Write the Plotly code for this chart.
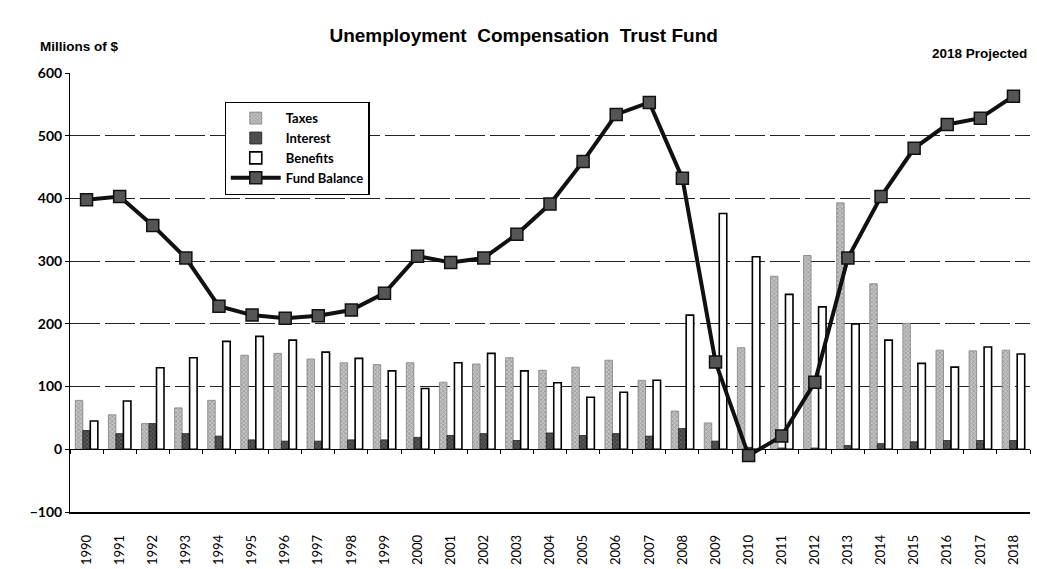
import plotly.graph_objects as go

years = [str(y) for y in range(1990, 2019)]
taxes = [78, 55, 41, 66, 78, 150, 153, 144, 138, 135, 138, 107, 136, 146, 126, 131, 142, 110, 61, 42,
         162, 276, 309, 393, 264, 201, 158, 157, 158]
interest = [30, 25, 41, 25, 21, 15, 13, 13, 15, 15, 19, 22, 25, 14, 26, 22, 25, 21, 33, 13,
            3, 2, 2, 6, 9, 12, 14, 14, 14]
benefits = [45, 77, 130, 146, 172, 180, 174, 155, 145, 125, 97, 138, 153, 125, 106, 83, 91, 110, 214, 376,
            307, 247, 227, 200, 174, 137, 131, 163, 152]
fund_balance = [398, 403, 357, 305, 228, 214, 209, 213, 222, 249, 308, 298, 305, 343, 391, 459, 534, 553, 432, 139,
                -10, 21, 107, 305, 403, 480, 518, 528, 563]

y_min, y_max = -100, 600

fig = go.Figure()
fig.add_trace(go.Bar(
    x=years, y=taxes, name="Taxes",
    marker=dict(color="#b8b8b8", line=dict(color="#808080", width=0.8),
                pattern=dict(shape="x", fgcolor="#606060", bgcolor="#c4c4c4", size=3, solidity=0.4)),
))
fig.add_trace(go.Bar(
    x=years, y=interest, name="Interest",
    marker=dict(color="#4d4d4d", line=dict(color="#222", width=0.8),
                pattern=dict(shape="x", fgcolor="#a0a0a0", bgcolor="#404040", size=3, solidity=0.35)),
))
fig.add_trace(go.Bar(
    x=years, y=benefits, name="Benefits",
    marker=dict(color="white", line=dict(color="black", width=1.6)),
))
fig.add_trace(go.Scatter(
    x=years, y=fund_balance, name="Fund Balance", mode="lines+markers",
    line=dict(color="#111", width=4),
    marker=dict(symbol="square", size=12, color="#555", line=dict(color="#111", width=1.5)),
))
# helper trace for category ticks along the zero line
fig.add_trace(go.Scatter(x=years, y=[None] * len(years), xaxis="x2", showlegend=False,
                         hoverinfo="skip", mode="markers"))

zero_pos = (0 - y_min) / (y_max - y_min)

fig.update_layout(
    width=1037, height=569,
    margin=dict(l=70, r=7, t=73, b=57, autoexpand=False),
    paper_bgcolor="white", plot_bgcolor="white",
    barmode="group", bargap=0.32, bargroupgap=0,
    font=dict(family="Liberation Sans, Arial, sans-serif", color="black", size=12),
    title=dict(text="<b>Unemployment  Compensation  Trust Fund</b>", x=0.505, xanchor="center",
               y=0.938, yanchor="middle", font=dict(size=19, family="Liberation Sans, Arial")),
    showlegend=True,
    legend=dict(x=0.161, y=0.934, xanchor="left", yanchor="top", bgcolor="white",
                bordercolor="black", borderwidth=1.2, traceorder="normal",
                font=dict(family="Lato, Open Sans, sans-serif", size=13, weight="bold"),
                itemwidth=50, tracegroupgap=2),
    xaxis=dict(type="category", categoryorder="array", categoryarray=years, range=[-0.5, len(years) - 0.5],
               showline=True, linecolor="black", linewidth=1.5, mirror=False, ticks="",
               tickangle=-90, tickfont=dict(family="Lato, sans-serif", size=13),
               ticklabelstandoff=16,
               showgrid=False, zeroline=False, automargin=False),
    xaxis2=dict(type="category", categoryorder="array", categoryarray=years, range=[-0.5, len(years) - 0.5],
                overlaying="x", anchor="free", position=zero_pos, side="bottom",
                showline=True, linecolor="black", linewidth=1, ticks="outside", ticklen=4,
                tickcolor="black", tickson="boundaries", showticklabels=False, showgrid=False,
                zeroline=False, automargin=False),
    yaxis=dict(range=[y_min, y_max], dtick=100, showline=True, linecolor="black", linewidth=1,
               ticks="outside", ticklen=4, tickcolor="black", automargin=False,
               tickfont=dict(family="Lato, sans-serif", size=14, weight="bold"),
               showgrid=True, gridcolor="#222", gridwidth=1, griddash="30px,5px",
               zeroline=True, zerolinecolor="black", zerolinewidth=1),
)

fig.add_annotation(text="<b>Millions of $</b>", xref="paper", yref="paper", x=-0.033, y=1.06,
                   xanchor="left", yanchor="middle", showarrow=False,
                   font=dict(size=13.5, family="Liberation Sans, Arial"))
fig.add_annotation(text="<b>2018 Projected</b>", xref="paper", yref="paper", x=0.999, y=1.045,
                   xanchor="right", yanchor="middle", showarrow=False,
                   font=dict(size=13.5, family="Liberation Sans, Arial"))

fig.write_html("out.html", config={"displayModeBar": False},
               post_script="document.body.style.margin='0';document.body.style.overflow='hidden';")
